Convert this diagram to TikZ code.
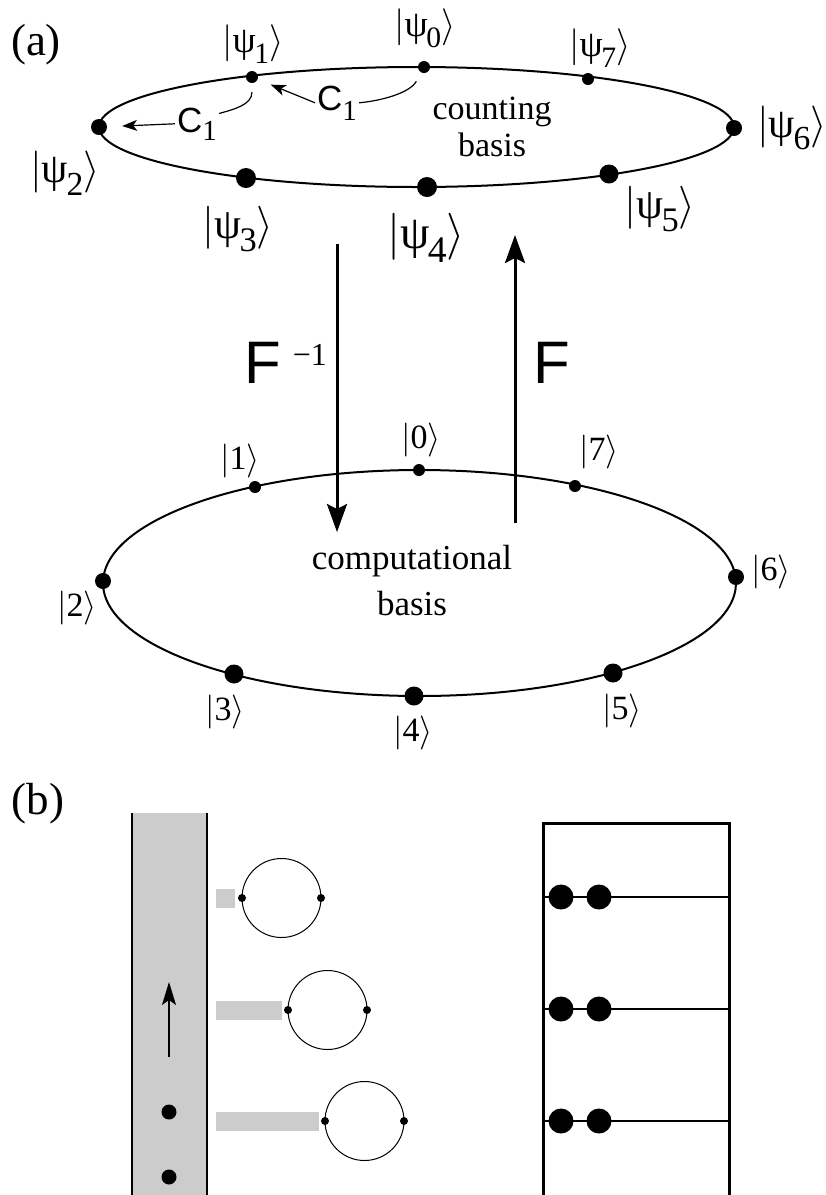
\documentclass[tikz,border=0pt]{standalone}
\usepackage{fix-cm}
\usepackage{fontspec}
\setmainfont{Liberation Serif}
\newfontfamily\helv{Liberation Sans}
\usetikzlibrary{arrows.meta}

\newcommand{\kpsi}[1]{$|$ψ\kern-0.04em\raisebox{-0.3em}{\scalebox{0.8}{#1}}$\rangle$}
\newcommand{\knum}[1]{$|$#1$\rangle$}

\begin{document}
\begin{tikzpicture}[
  x=1pt, y=-1pt,
  fs/.style={font=\fontsize{#1}{#1}\selectfont},
  dot/.style={circle, fill, inner sep=0pt, minimum size=#1},
  ket/.style={fs=#1, inner sep=0pt},
  ring/.style={line width=2pt},
  map/.style={-{Stealth[length=28pt, width=20pt, inset=5pt]}, line width=3pt},
  hop/.style={line width=1.2pt},
  hopto/.style={hop, -{Stealth[length=15pt, width=11pt, inset=4pt]}}]

\useasboundingbox (0,0) rectangle (826,1195);

% (a) counting basis
\node[fs=45, inner sep=0pt] (la) at (36,45) {(a)};
\draw[ring] (416.5,127) ellipse [x radius=317.5, y radius=60];

\node[dot=12pt] (p0) at (424,67)  {};
\node[dot=12pt] (p1) at (252,77)  {};
\node[dot=16pt] (p2) at (99,127)  {};
\node[dot=20pt] (p3) at (246,178) {};
\node[dot=20pt] (p4) at (427,187) {};
\node[dot=19pt] (p5) at (609,174) {};
\node[dot=16pt] (p6) at (734,128) {};
\node[dot=12pt] (p7) at (588,79)  {};

\node[ket=37] (k0) at (425,28)  {\kpsi{0}};
\node[ket=37] (k1) at (253,44)  {\kpsi{1}};
\node[ket=42] (k2) at (65,173)  {\kpsi{2}};
\node[ket=43] (k3) at (238,229) {\kpsi{3}};
\node[ket=47] (k4) at (426,238) {\kpsi{4}};
\node[ket=43] (k5) at (660,209) {\kpsi{5}};
\node[ket=42] (k6) at (792,128) {\kpsi{6}};
\node[ket=37] (k7) at (600,48)  {\kpsi{7}};

\node[font=\fontsize{34}{37}\selectfont, align=center, inner sep=0pt] (cnt) at (492,127) {counting\\basis};

% the shift C1
\node[inner sep=2pt, anchor=base west] (ca) at (315,110) {{\helv\fontsize{35}{35}\selectfont C}\raisebox{-10pt}{\fontsize{29}{29}\selectfont 1}};
\node[inner sep=2pt, anchor=base west] (cb) at (175,132) {{\helv\fontsize{35}{35}\selectfont C}\raisebox{-8pt}{\fontsize{29}{29}\selectfont 1}};
\draw[hop, shorten <=10pt] (p0) .. controls +(-14,26) and +(22,-2) .. (ca.east);
\draw[hop, shorten <=9pt] (p1) .. controls +(0,28) and +(14,-4) .. (cb.25);
\draw[hopto, shorten >=14pt] (ca.west) -- (p1);
\draw[hopto, shorten >=15pt] (cb.west) -- (p2);

% Fourier transform
\coordinate (fi-a) at (337,244);
\coordinate (fi-b) at (337,532);
\coordinate (f-a)  at (515,523);
\coordinate (f-b)  at (515,235);
\draw[map] (fi-a) -- (fi-b);
\draw[map] (f-a) -- (f-b);
\node[inner sep=0pt, anchor=base west] (finv) at (244,383) {{\helv\fontsize{60}{60}\selectfont F}\hspace{12pt}\raisebox{18pt}{\fontsize{32}{32}\selectfont −1}};
\node[inner sep=0pt, anchor=base west] (fwd) at (533,383) {\helv\fontsize{60}{60}\selectfont F};

% computational basis
\draw[ring] (419.5,583) ellipse [x radius=316.5, y radius=113];

\node[dot=12pt] (c0) at (419,470) {};
\node[dot=12pt] (c1) at (255,487) {};
\node[dot=16pt] (c2) at (103,581) {};
\node[dot=19pt] (c3) at (234,674) {};
\node[dot=19pt] (c4) at (414,696) {};
\node[dot=19pt] (c5) at (613,673) {};
\node[dot=16pt] (c6) at (736,577) {};
\node[dot=12pt] (c7) at (575,486) {};

\node[ket=34] (n0) at (421,440) {\knum{0}};
\node[ket=34] (n1) at (240,461) {\knum{1}};
\node[ket=34] (n2) at (77,608)  {\knum{2}};
\node[ket=34] (n3) at (225,712) {\knum{3}};
\node[ket=34] (n4) at (413,733) {\knum{4}};
\node[ket=34] (n5) at (622,711) {\knum{5}};
\node[ket=34] (n6) at (771,572) {\knum{6}};
\node[ket=34] (n7) at (599,452) {\knum{7}};

\node[font=\fontsize{35}{46}\selectfont, align=center, inner sep=0pt] (cmp) at (412,581) {computational\\basis};

% (b)
\node[fs=45, inner sep=0pt] (lb) at (38,804) {(b)};
\fill[black!20] (132,813) rectangle (207,1195);
\draw[line width=1.5pt] (132,813) -- (132,1195) (207,813) -- (207,1195);
\coordinate (up-a) at (169,1057);
\coordinate (up-b) at (169,982);
\draw[line width=1.5pt, -{Stealth[length=23pt, width=14pt, inset=5pt]}] (up-a) -- (up-b);
\node[dot=15pt] (q1) at (169,1112) {};
\node[dot=15pt] (q2) at (169,1177) {};

\foreach \y/\xe/\xc [count=\i] in {898/235/281.5, 1010/282/327.5, 1121/319/364.5} {
  \fill[black!20] (216,\y-9.5) rectangle (\xe,\y+9.5);
  \draw[line width=1pt] (\xc,\y) circle [radius=39.5];
  \node[dot=8pt] (sl\i) at (\xc-39.5,\y) {};
  \node[dot=8pt] (sr\i) at (\xc+39.5,\y) {};
}

\draw[line width=3pt] (543,1195) -- (543,823) -- (729,823) -- (729,1195);
\foreach \y [count=\i] in {897,1009,1121} {
  \draw[line width=2pt] (543,\y) -- (729,\y);
  \node[dot=25pt] (ra\i) at (561,\y) {};
  \node[dot=25pt] (rb\i) at (599,\y) {};
}
\end{tikzpicture}
\end{document}
